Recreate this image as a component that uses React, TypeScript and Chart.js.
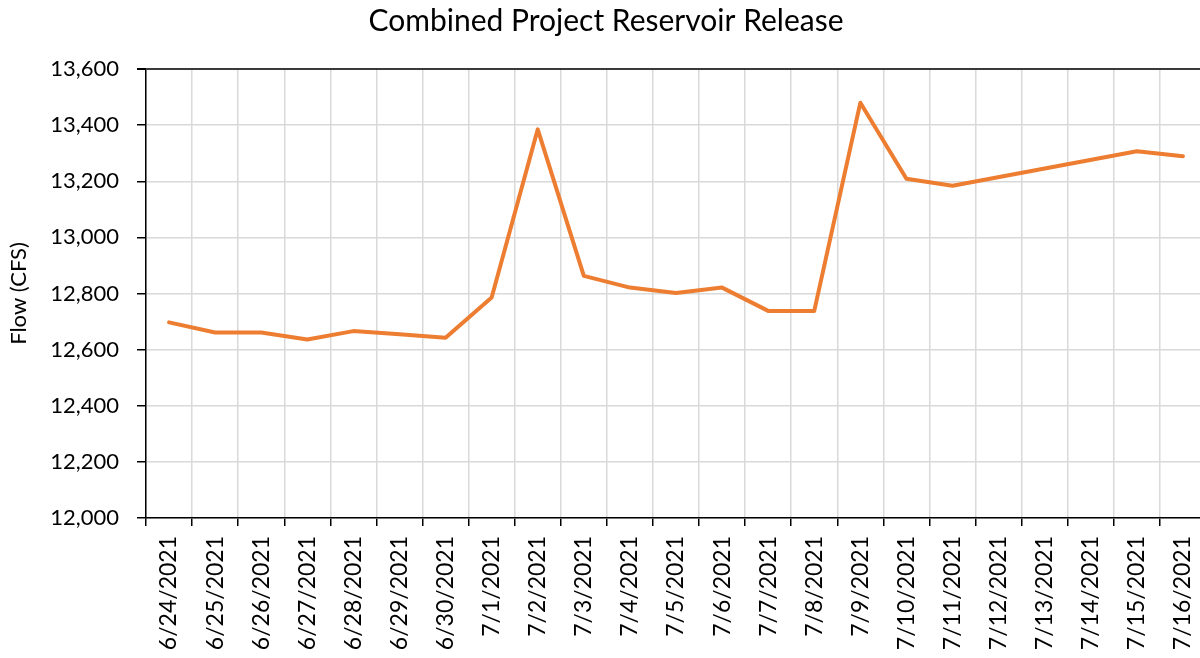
import React, { useEffect, useRef } from "react";
import { Chart, registerables } from "chart.js";

Chart.register(...registerables);

const categories = [
  "6/24/2021", "6/25/2021", "6/26/2021", "6/27/2021", "6/28/2021", "6/29/2021",
  "6/30/2021", "7/1/2021", "7/2/2021", "7/3/2021", "7/4/2021", "7/5/2021",
  "7/6/2021", "7/7/2021", "7/8/2021", "7/9/2021", "7/10/2021", "7/11/2021",
  "7/12/2021", "7/13/2021", "7/14/2021", "7/15/2021", "7/16/2021",
];

const flowValues: (number | null)[] = [
  12697, 12661, 12661, 12636, 12666, 12655, 12642, 12786, 13385, 12863,
  12821, 12802, 12821, 12738, 12738, 13480, 13209, 13184, null, null, null,
  13307, 13289,
];

const yMin = 12000;
const yMax = 13600;
const yStep = 200;

const FONT = "Lato, 'Noto Sans', sans-serif";

export default function App() {
  const ref = useRef<HTMLCanvasElement | null>(null);

  useEffect(() => {
    if (!ref.current) return;
    const chart = new Chart(ref.current, {
      type: "line",
      data: {
        labels: categories,
        datasets: [
          {
            label: "Flow",
            data: flowValues,
            borderColor: "#ED7D31",
            backgroundColor: "#ED7D31",
            borderWidth: 4,
            pointRadius: 0,
            tension: 0,
            spanGaps: true,
            borderJoinStyle: "round",
            borderCapStyle: "round",
          },
        ],
      },
      options: {
        animation: false,
        responsive: true,
        maintainAspectRatio: false,
        layout: { padding: { left: 6, right: 0, top: 0, bottom: 0 } },
        plugins: {
          legend: { display: false },
          tooltip: { enabled: false },
          title: {
            display: true,
            text: "Combined Project Reservoir Release",
            color: "#000",
            font: { family: FONT, size: 30, weight: "normal" },
            padding: { top: 3, bottom: 30 },
          },
        },
        scales: {
          x: {
            type: "category",
            offset: true,
            grid: {
              offset: true,
              color: "#d9d9d9",
              lineWidth: 1.5,
              tickColor: "#000",
              tickLength: 8,
            },
            border: { color: "#000", width: 1.5 },
            ticks: {
              color: "#000",
              font: { family: FONT, size: 23 },
              maxRotation: 90,
              minRotation: 90,
              padding: 10,
              autoSkip: false,
            },
            afterFit: (scale: any) => {
              scale.height = 140;
              scale.paddingRight = 0;
              scale.paddingLeft = 0;
            },
          },
          y: {
            min: yMin,
            max: yMax,
            grid: {
              color: (ctx: any) =>
                ctx.tick && ctx.tick.value === yMax ? "#3a3a3a" : "#d9d9d9",
              lineWidth: (ctx: any) =>
                ctx.tick && ctx.tick.value === yMax ? 2 : 1.5,
              tickColor: "#000",
              tickLength: 9,
            },
            border: { color: "#000", width: 1.5 },
            ticks: {
              stepSize: yStep,
              color: "#000",
              font: { family: FONT, size: 22 },
              padding: 18,
              callback: (v: any) => Number(v).toLocaleString("en-US"),
            },
            title: {
              display: true,
              text: "Flow (CFS)",
              color: "#000",
              font: { family: FONT, size: 22 },
              padding: { top: 0, bottom: 0 },
            },
            afterFit: (scale: any) => {
              scale.width = 140;
            },
          },
        },
      },
    });
    return () => chart.destroy();
  }, []);

  return (
    <div
      style={{
        position: "fixed",
        left: 0,
        top: 0,
        width: 1200,
        height: 658,
        overflow: "hidden",
        background: "#fff",
      }}
    >
      <div style={{ position: "relative", width: 1206, height: 658 }}>
        <canvas ref={ref} />
      </div>
    </div>
  );
}
